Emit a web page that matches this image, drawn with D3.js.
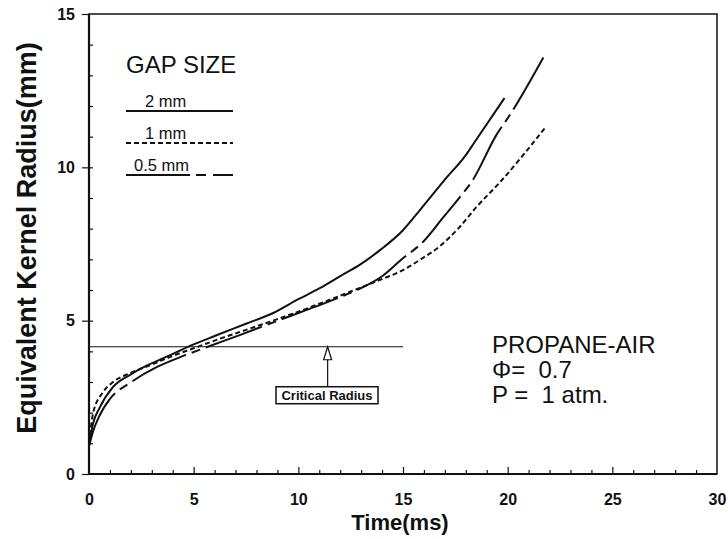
<!DOCTYPE html>
<html>
<head>
<meta charset="utf-8">
<script src="https://cdn.jsdelivr.net/npm/d3@7"></script>
<style>
	body { margin: 0; background: #fff; }
	text { font-family: "Liberation Sans", Arial, sans-serif; fill: #111; }
</style>
</head>
<body>
<div id="chart"></div>
<script>
// Gap 2 mm (solid)
const time2mm = [0, 0.2, 0.5, 1.15, 2, 2.8, 3.8, 4.7, 6, 7.5, 8.8, 10, 11, 12, 13, 13.9, 15, 15.8, 17, 18, 18.4, 19.85];
const radius2mm = [0.95, 1.66, 2.15, 2.84, 3.25, 3.55, 3.85, 4.14, 4.5, 4.9, 5.25, 5.7, 6.05, 6.45, 6.85, 7.3, 7.95, 8.6, 9.6, 10.4, 10.8, 12.26];
// Gap 1 mm (dotted)
const time1mm = [0, 0.2, 0.67, 1.15, 2, 3, 4, 5, 6, 7.5, 9, 11, 12.5, 13.9, 15, 15.8, 16.8, 17.7, 18.5, 19.6, 21.8];
const radius1mm = [1.0, 2.0, 2.67, 3.0, 3.3, 3.57, 3.85, 4.1, 4.35, 4.7, 5.05, 5.55, 5.95, 6.33, 6.65, 6.98, 7.45, 8.05, 8.7, 9.49, 11.3];
// Gap 0.5 mm (long dash)
const time05mm = [0, 0.2, 0.5, 1, 1.96, 3.25, 4.5, 5.64, 7.2, 9.1, 10.4, 12, 12.8, 14, 14.9, 16, 16.9, 17.8, 18.3, 19.5, 20, 21.8];
const radius05mm = [0.9, 1.4, 1.9, 2.45, 2.97, 3.49, 3.85, 4.14, 4.53, 5.02, 5.35, 5.77, 6.0, 6.45, 6.98, 7.6, 8.35, 9.1, 9.55, 11.1, 11.6, 13.7];

const xTicks = [0, 5, 10, 15, 20, 25, 30];
const yTicks = [0, 5, 10, 15];
const legendLabels = ['2 mm', '1 mm', '0.5 mm'];
const criticalRadius = 4.15;
const criticalEnd = 15;
const criticalArrowTime = 11.4;
const conditionLines = ['PROPANE-AIR', 'Φ=  0.7', 'P =  1 atm.'];

let margin = {top: 14, bottom: 65, left: 89, right: 11};
let full_width = 728;
let full_height = 539;
let width = full_width - margin.left - margin.right;
let height = full_height - margin.top - margin.bottom;

const svg = d3.select('#chart')
	.append('svg')
		.attr('width', full_width)
		.attr('height', full_height)
	.append('g')
		.attr('transform', 'translate(' + margin.left + ',' + margin.top + ')');

let x = d3.scaleLinear().domain([0, 30]).range([0, width]);
let y = d3.scaleLinear().domain([0, 15]).range([height, 0]);

// Frame
svg.append('rect')
	.attr('width', width).attr('height', height)
	.attr('fill', 'none').attr('stroke', '#111').attr('stroke-width', 1.5);
svg.append('line').attr('x1', 0).attr('x2', 0).attr('y1', 0).attr('y2', height)
	.attr('stroke', '#111').attr('stroke-width', 2.2);
svg.append('line').attr('x1', 0).attr('x2', width).attr('y1', height).attr('y2', height)
	.attr('stroke', '#111').attr('stroke-width', 2.2);

// Inner minor ticks every 1 unit, major labels every 5
const xAxis = svg.append('g')
	.attr('transform', 'translate(0,' + height + ')')
	.call(d3.axisBottom(x).tickValues(d3.range(1, 30)).tickSize(-4).tickFormat(''));
xAxis.select('.domain').remove();
xAxis.selectAll('line').attr('stroke', '#111').attr('stroke-width', 1.2)
	.filter(d => d % 5 == 0).attr('y2', -7);

const xLabels = svg.append('g')
	.attr('transform', 'translate(0,' + height + ')')
	.call(d3.axisBottom(x).tickValues(xTicks).tickSize(0).tickPadding(20).tickFormat(d3.format('d')));
xLabels.select('.domain').remove();
xLabels.selectAll('text').attr('font-size', '16px').attr('font-weight', 'bold').attr('fill', '#111');

const yAxis = svg.append('g')
	.call(d3.axisLeft(y).tickValues(d3.range(1, 15)).tickSize(-4).tickFormat(''));
yAxis.select('.domain').remove();
yAxis.selectAll('line').attr('stroke', '#111').attr('stroke-width', 1.2);

const yLabels = svg.append('g')
	.call(d3.axisLeft(y).tickValues(yTicks).tickSize(7).tickPadding(7).tickFormat(d3.format('d')));
yLabels.select('.domain').remove();
yLabels.selectAll('line').attr('stroke', '#111').attr('stroke-width', 1.2);
yLabels.selectAll('text').attr('font-size', '16px').attr('font-weight', 'bold').attr('fill', '#111');

// Axis titles
svg.append('text')
	.attr('x', width / 2 - 3)
	.attr('y', height + 56)
	.attr('text-anchor', 'middle')
	.attr('font-size', '22px')
	.attr('font-weight', 'bold')
	.text('Time(ms)');

svg.append('text')
	.attr('transform', 'translate(' + (-53) + ',' + (224) + ') rotate(-90)')
	.attr('text-anchor', 'middle')
	.attr('font-size', '27px')
	.attr('font-weight', 'bold')
	.text('Equivalent Kernel Radius(mm)');

// Curves
const series = [
	{t: time2mm, r: radius2mm, dash: null},
	{t: time1mm, r: radius1mm, dash: '5,3'},
	{t: time05mm, r: radius05mm, dash: '60,6,9,6'}
];
const line = d3.line()
	.x(d => x(d[0]))
	.y(d => y(d[1]))
	.curve(d3.curveMonotoneX);

series.forEach(s => {
	svg.append('path')
		.datum(d3.zip(s.t, s.r))
		.attr('d', line)
		.attr('fill', 'none')
		.attr('stroke', '#111')
		.attr('stroke-width', 2)
		.attr('stroke-dasharray', s.dash);
});

// Critical radius line and label
svg.append('line')
	.attr('x1', x(0)).attr('x2', x(criticalEnd))
	.attr('y1', y(criticalRadius)).attr('y2', y(criticalRadius))
	.attr('stroke', '#111').attr('stroke-width', 1.2);

let ax = x(criticalArrowTime);
let ay = y(criticalRadius);
svg.append('line')
	.attr('x1', ax).attr('x2', ax)
	.attr('y1', ay + 12).attr('y2', ay + 40)
	.attr('stroke', '#111').attr('stroke-width', 1.2);
svg.append('path')
	.attr('d', 'M' + ax + ',' + ay + 'L' + (ax - 4) + ',' + (ay + 13) + 'L' + (ax + 4) + ',' + (ay + 13) + 'Z')
	.attr('fill', '#fff').attr('stroke', '#111').attr('stroke-width', 1.2);

svg.append('rect')
	.attr('x', 187).attr('y', ay + 40)
	.attr('width', 102).attr('height', 17)
	.attr('fill', '#fff').attr('stroke', '#111').attr('stroke-width', 1.5);
svg.append('text')
	.attr('x', 238).attr('y', ay + 53)
	.attr('text-anchor', 'middle')
	.attr('font-size', '13px')
	.attr('font-weight', 'bold')
	.text('Critical Radius');

// Legend
svg.append('text')
	.attr('x', 37).attr('y', 59)
	.attr('font-size', '24px')
	.text('GAP SIZE');

const legendDash = [null, '5,3', '64,6,10,7,30'];
legendLabels.forEach((l, i) => {
	let ly = 97 + i * 32;
	svg.append('line')
		.attr('x1', 37).attr('x2', 144)
		.attr('y1', ly).attr('y2', ly)
		.attr('stroke', '#111').attr('stroke-width', 2)
		.attr('stroke-dasharray', legendDash[i]);
	svg.append('text')
		.attr('x', i == 2 ? 45 : 56).attr('y', ly - 4)
		.attr('font-size', '16.5px')
		.text(l);
});

// Conditions
conditionLines.forEach((c, i) => {
	svg.append('text')
		.attr('x', 403).attr('y', 339 + i * 25)
		.attr('font-size', '24px')
		.attr('xml:space', 'preserve')
		.style('white-space', 'pre')
		.text(c);
});
</script>
</body>
</html>
